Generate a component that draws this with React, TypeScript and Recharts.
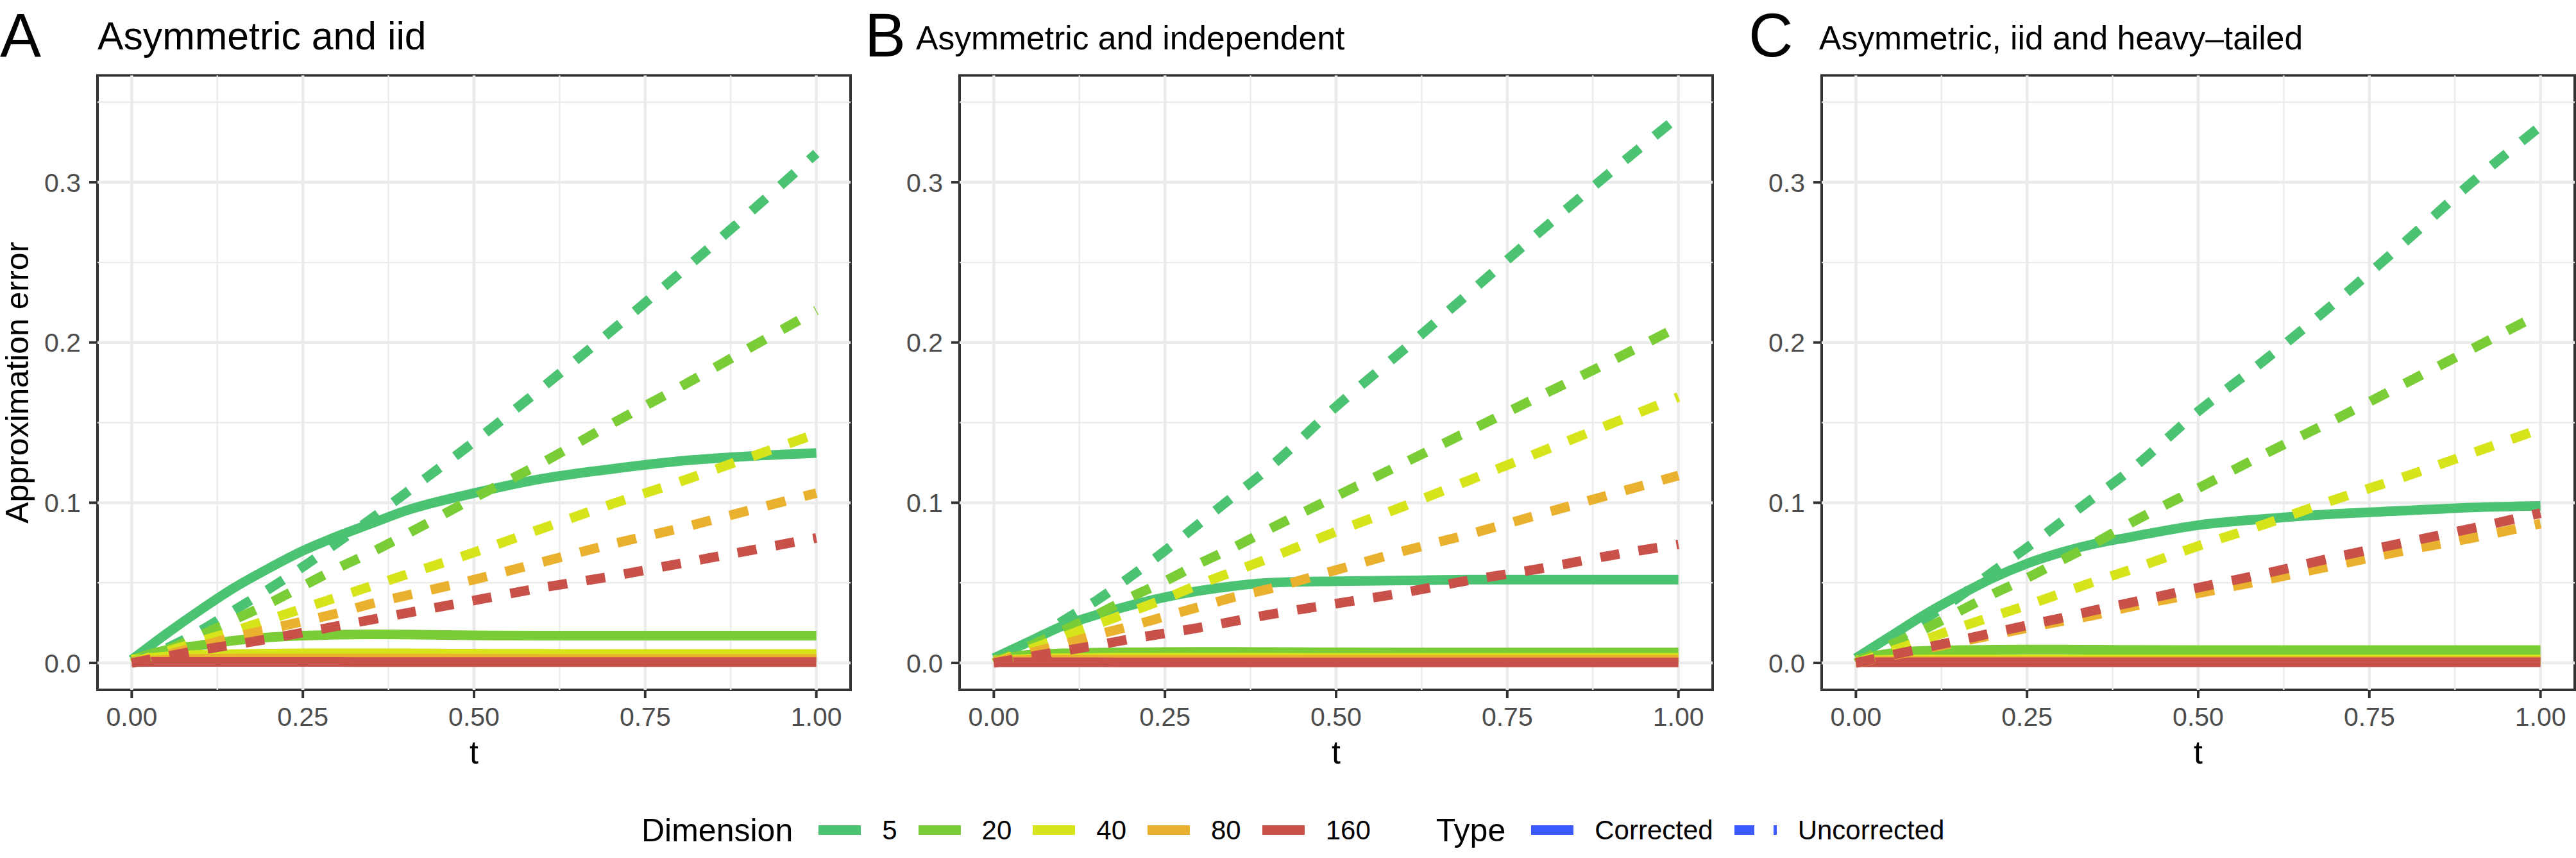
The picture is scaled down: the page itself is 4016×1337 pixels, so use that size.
import React from 'react';
import { LineChart, Line, XAxis, YAxis, ReferenceLine, ReferenceArea } from 'recharts';

const FONT = '"Liberation Sans", Arial, Helvetica, sans-serif';

const tValues = [0, 0.05, 0.1, 0.15, 0.2, 0.25, 0.3, 0.35, 0.4, 0.5, 0.6, 0.7, 0.8, 0.9, 1.0];
const dimensions = ['5', '20', '40', '80', '160'];
const dimColors = ['#4cc372', '#7acd36', '#d7e31b', '#eab12e', '#c8524a'];
const typeColor = '#3b5bff';

const majorY = [0, 0.1, 0.2, 0.3];
const minorY = [0.05, 0.15, 0.25, 0.35];
const majorX = [0, 0.25, 0.5, 0.75, 1];
const minorX = [0.125, 0.375, 0.625, 0.875];
const xDomain = [-0.05, 1.05];
const yDomain = [-0.0168, 0.3667];

// A: asymmetric and iid
const iidCorr5 = [0.002, 0.018, 0.033, 0.047, 0.059, 0.07, 0.079, 0.087, 0.095, 0.106, 0.115, 0.121, 0.126, 0.129, 0.131];
const iidCorr20 = [0.002, 0.008, 0.011, 0.014, 0.016, 0.017, 0.0176, 0.0178, 0.0177, 0.0172, 0.017, 0.017, 0.017, 0.017, 0.017];
const iidCorr40 = [0.002, 0.004, 0.005, 0.0055, 0.0058, 0.006, 0.006, 0.006, 0.006, 0.0058, 0.0057, 0.0056, 0.0056, 0.0056, 0.0056];
const iidCorr80 = [0.001, 0.002, 0.0025, 0.0027, 0.0028, 0.0028, 0.0028, 0.0028, 0.0027, 0.0026, 0.0025, 0.0025, 0.0025, 0.0025, 0.0025];
const iidCorr160 = [0.0005, 0.0006, 0.0006, 0.0006, 0.0006, 0.0006, 0.0006, 0.0005, 0.0005, 0.0005, 0.0005, 0.0005, 0.0005, 0.0005, 0.0005];
const iidUnc5 = [0, 0.009, 0.02, 0.033, 0.046, 0.06, 0.075, 0.09, 0.106, 0.138, 0.172, 0.207, 0.243, 0.28, 0.318];
const iidUnc20 = [0, 0.008, 0.017, 0.027, 0.037, 0.048, 0.059, 0.069, 0.08, 0.103, 0.125, 0.149, 0.172, 0.196, 0.22];
const iidUnc40 = [0, 0.007, 0.0135, 0.02, 0.027, 0.034, 0.041, 0.048, 0.055, 0.069, 0.084, 0.099, 0.113, 0.128, 0.143];
const iidUnc80 = [0, 0.005, 0.0105, 0.016, 0.021, 0.026, 0.031, 0.037, 0.042, 0.052, 0.063, 0.074, 0.084, 0.095, 0.106];
const iidUnc160 = [0, 0.004, 0.008, 0.0115, 0.015, 0.019, 0.023, 0.027, 0.031, 0.039, 0.047, 0.054, 0.062, 0.07, 0.078];

// B: asymmetric and independent
const indCorr5 = [0.003, 0.013, 0.023, 0.03, 0.036, 0.041, 0.045, 0.048, 0.05, 0.051, 0.0515, 0.052, 0.052, 0.052, 0.052];
const indCorr20 = [0.002, 0.005, 0.006, 0.0064, 0.0066, 0.0068, 0.0069, 0.0069, 0.0068, 0.0066, 0.0065, 0.0065, 0.0065, 0.0065, 0.0065];
const indCorr40 = [0.0015, 0.0025, 0.003, 0.0032, 0.0033, 0.0033, 0.0033, 0.0033, 0.0033, 0.0032, 0.0032, 0.0032, 0.0032, 0.0032, 0.0032];
const indCorr80 = [0.001, 0.0018, 0.002, 0.002, 0.002, 0.002, 0.002, 0.002, 0.002, 0.002, 0.002, 0.002, 0.002, 0.002, 0.002];
const indCorr160 = [0.0004, 0.0004, 0.0004, 0.0004, 0.0003, 0.0003, 0.0003, 0.0003, 0.0003, 0.0003, 0.0003, 0.0003, 0.0003, 0.0003, 0.0003];
const indUnc5 = [0, 0.011, 0.026, 0.039, 0.054, 0.07, 0.087, 0.104, 0.121, 0.16, 0.196, 0.233, 0.27, 0.306, 0.341];
const indUnc20 = [0, 0.01, 0.02, 0.03, 0.041, 0.051, 0.062, 0.072, 0.083, 0.104, 0.125, 0.146, 0.167, 0.188, 0.21];
const indUnc40 = [0, 0.008, 0.016, 0.024, 0.032, 0.04, 0.049, 0.057, 0.065, 0.082, 0.098, 0.115, 0.132, 0.149, 0.166];
const indUnc80 = [0, 0.006, 0.0115, 0.0175, 0.023, 0.029, 0.035, 0.041, 0.046, 0.058, 0.07, 0.081, 0.093, 0.105, 0.117];
const indUnc160 = [0, 0.0037, 0.0074, 0.011, 0.015, 0.0185, 0.022, 0.026, 0.03, 0.037, 0.044, 0.052, 0.059, 0.067, 0.074];

// C: asymmetric, iid and heavy-tailed
const heavyCorr5 = [0.003, 0.0165, 0.03, 0.042, 0.053, 0.062, 0.069, 0.0745, 0.0785, 0.086, 0.09, 0.093, 0.095, 0.097, 0.098];
const heavyCorr20 = [0.002, 0.006, 0.0075, 0.008, 0.0082, 0.0083, 0.0083, 0.0082, 0.0081, 0.008, 0.008, 0.008, 0.008, 0.008, 0.008];
const heavyCorr40 = [0.0015, 0.002, 0.0022, 0.0022, 0.0022, 0.0022, 0.0022, 0.0022, 0.0022, 0.0022, 0.0022, 0.0022, 0.0022, 0.0022, 0.0022];
const heavyCorr80 = [0.001, 0.0012, 0.0012, 0.0012, 0.0012, 0.0012, 0.0012, 0.0012, 0.0012, 0.0012, 0.0012, 0.0012, 0.0012, 0.0012, 0.0012];
const heavyCorr160 = [0.0004, 0.0004, 0.0004, 0.0004, 0.0004, 0.0004, 0.0004, 0.0004, 0.0004, 0.0004, 0.0004, 0.0004, 0.0004, 0.0004, 0.0004];
const heavyUnc5 = [0, 0.012, 0.027, 0.041, 0.057, 0.072, 0.088, 0.104, 0.12, 0.157, 0.19, 0.225, 0.262, 0.3, 0.335];
const heavyUnc20 = [0, 0.011, 0.021, 0.032, 0.043, 0.053, 0.064, 0.075, 0.087, 0.109, 0.131, 0.152, 0.174, 0.196, 0.218];
const heavyUnc40 = [0, 0.0072, 0.0145, 0.022, 0.029, 0.036, 0.0435, 0.051, 0.058, 0.073, 0.087, 0.102, 0.116, 0.131, 0.146];
const heavyUnc80 = [0, 0.0044, 0.0087, 0.013, 0.0174, 0.0218, 0.026, 0.03, 0.035, 0.0435, 0.052, 0.061, 0.07, 0.078, 0.087];
const heavyUnc160 = [0, 0.0047, 0.0094, 0.014, 0.0188, 0.0235, 0.028, 0.033, 0.0375, 0.047, 0.056, 0.066, 0.075, 0.084, 0.0935];

const panels = [
  {
    tag: 'A', title: 'Asymmetric and iid',
    corrected: [iidCorr5, iidCorr20, iidCorr40, iidCorr80, iidCorr160],
    uncorrected: [iidUnc5, iidUnc20, iidUnc40, iidUnc80, iidUnc160],
    left: 0, width: 1330, yAxisWidth: 152, rightMargin: 4, yTitle: true,
    tagX: 0, titleX: 152, titleSize: 60.7,
  },
  {
    tag: 'B', title: 'Asymmetric and independent',
    corrected: [indCorr5, indCorr20, indCorr40, indCorr80, indCorr160],
    uncorrected: [indUnc5, indUnc20, indUnc40, indUnc80, indUnc160],
    left: 1340, width: 1336, yAxisWidth: 156, rightMargin: 6, yTitle: false,
    tagX: 1348, titleX: 1428, titleSize: 51.6,
  },
  {
    tag: 'C', title: 'Asymmetric, iid and heavy\u2013tailed',
    corrected: [heavyCorr5, heavyCorr20, heavyCorr40, heavyCorr80, heavyCorr160],
    uncorrected: [heavyUnc5, heavyUnc20, heavyUnc40, heavyUnc80, heavyUnc160],
    left: 2684, width: 1332, yAxisWidth: 156, rightMargin: 2, yTitle: false,
    tagX: 2726, titleX: 2836, titleSize: 51.6,
  },
];

const YTitle = (props: any) => {
  const vb = props.viewBox;
  const cx = vb.x + 44;
  const cy = vb.y + vb.height / 2;
  return (
    <text x={cx} y={cy} transform={`rotate(-90, ${cx}, ${cy})`} textAnchor="middle"
      fontSize={50} fontFamily={FONT} fill="#000">
      Approximation error
    </text>
  );
};

const XTitle = (props: any) => {
  const vb = props.viewBox;
  return (
    <text x={vb.x + vb.width / 2} y={vb.y + 115} textAnchor="middle" fontSize={50} fontFamily={FONT} fill="#000">
      t
    </text>
  );
};

const Panel = ({ cfg }: { cfg: any }) => {
  const rows = tValues.map((t, i) => {
    const row: Record<string, number> = { t };
    dimensions.forEach((d, k) => {
      row['c' + d] = cfg.corrected[k][i];
      row['u' + d] = cfg.uncorrected[k][i];
    });
    return row;
  });

  return (
    <div style={{ position: 'absolute', left: cfg.left, top: 0 }}>
      <LineChart width={cfg.width} height={1337} data={rows}
        margin={{ top: 117.5, right: cfg.rightMargin, bottom: 0, left: 0 }}>
        {minorY.map(v => <ReferenceLine key={'my' + v} y={v} stroke="#ebebeb" strokeWidth={2.3} />)}
        {minorX.map(v => <ReferenceLine key={'mx' + v} x={v} stroke="#ebebeb" strokeWidth={2.3} />)}
        {majorY.map(v => <ReferenceLine key={'gy' + v} y={v} stroke="#ebebeb" strokeWidth={4.5} />)}
        {majorX.map(v => <ReferenceLine key={'gx' + v} x={v} stroke="#ebebeb" strokeWidth={4.5} />)}
        <XAxis type="number" dataKey="t" domain={xDomain} ticks={majorX} allowDataOverflow
          tickFormatter={(v: number) => v.toFixed(2)} height={262}
          axisLine={false} tickSize={13} tickMargin={14}
          tickLine={{ stroke: '#333333', strokeWidth: 4 }}
          tick={{ fill: '#4d4d4d', fontSize: 41, fontFamily: FONT }}
          label={{ content: XTitle }} />
        <YAxis type="number" domain={yDomain} ticks={majorY} allowDataOverflow
          tickFormatter={(v: number) => v.toFixed(1)} width={cfg.yAxisWidth}
          axisLine={false} tickSize={13} tickMargin={13}
          tickLine={{ stroke: '#333333', strokeWidth: 4 }}
          tick={{ fill: '#4d4d4d', fontSize: 41, fontFamily: FONT }}
          label={cfg.yTitle ? { content: YTitle } : undefined} />
        {dimensions.map((d, k) => (
          <Line key={'c' + d} dataKey={'c' + d} type="monotone" stroke={dimColors[k]} strokeWidth={15}
            dot={false} activeDot={false} isAnimationActive={false} />
        ))}
        {dimensions.map((d, k) => (
          <Line key={'u' + d} dataKey={'u' + d} type="monotone" stroke={dimColors[k]} strokeWidth={15}
            strokeDasharray="30 30" dot={false} activeDot={false} isAnimationActive={false} />
        ))}
        <ReferenceArea x1={xDomain[0]} x2={xDomain[1]} y1={yDomain[0]} y2={yDomain[1]}
          fill="none" stroke="#333333" strokeWidth={4} ifOverflow="visible" />
      </LineChart>
    </div>
  );
};

const LegendKey = ({ color, dashed }: { color: string; dashed?: boolean }) => (
  <svg width={66} height={15} style={{ marginRight: 33, display: 'block' }}>
    <line x1={0} y1={7.5} x2={66} y2={7.5} stroke={color} strokeWidth={15}
      strokeDasharray={dashed ? '31 30' : undefined} />
  </svg>
);

const labelStyle = { fontSize: 42, lineHeight: '50px', marginRight: 33 };
const titleStyle = { fontSize: 50, lineHeight: '50px', marginRight: 40 };

export default function App() {
  return (
    <div style={{ position: 'absolute', left: 0, top: 0, width: 4016, height: 1337, background: '#fff', fontFamily: FONT }}>
      {panels.map(p => <Panel key={p.tag} cfg={p} />)}
      <svg width={4016} height={1337} style={{ position: 'absolute', left: 0, top: 0, pointerEvents: 'none' }}>
        {panels.map(p => (
          <g key={p.tag}>
            <text x={p.tagX} y={88} fontSize={96} fontFamily={FONT} fill="#000">{p.tag}</text>
            <text x={p.titleX} y={77} fontSize={p.titleSize} fontFamily={FONT} fill="#000">{p.title}</text>
          </g>
        ))}
      </svg>
      <div style={{ position: 'absolute', left: 1000, top: 1268.5, height: 50, display: 'flex', alignItems: 'center', color: '#000', whiteSpace: 'nowrap' }}>
        <span style={titleStyle}>Dimension</span>
        {dimensions.map((d, k) => (
          <React.Fragment key={d}>
            <LegendKey color={dimColors[k]} />
            <span style={labelStyle}>{d}</span>
          </React.Fragment>
        ))}
        <span style={{ ...titleStyle, marginLeft: 69 }}>Type</span>
        <LegendKey color={typeColor} />
        <span style={labelStyle}>Corrected</span>
        <LegendKey color={typeColor} dashed />
        <span style={labelStyle}>Uncorrected</span>
      </div>
    </div>
  );
}
